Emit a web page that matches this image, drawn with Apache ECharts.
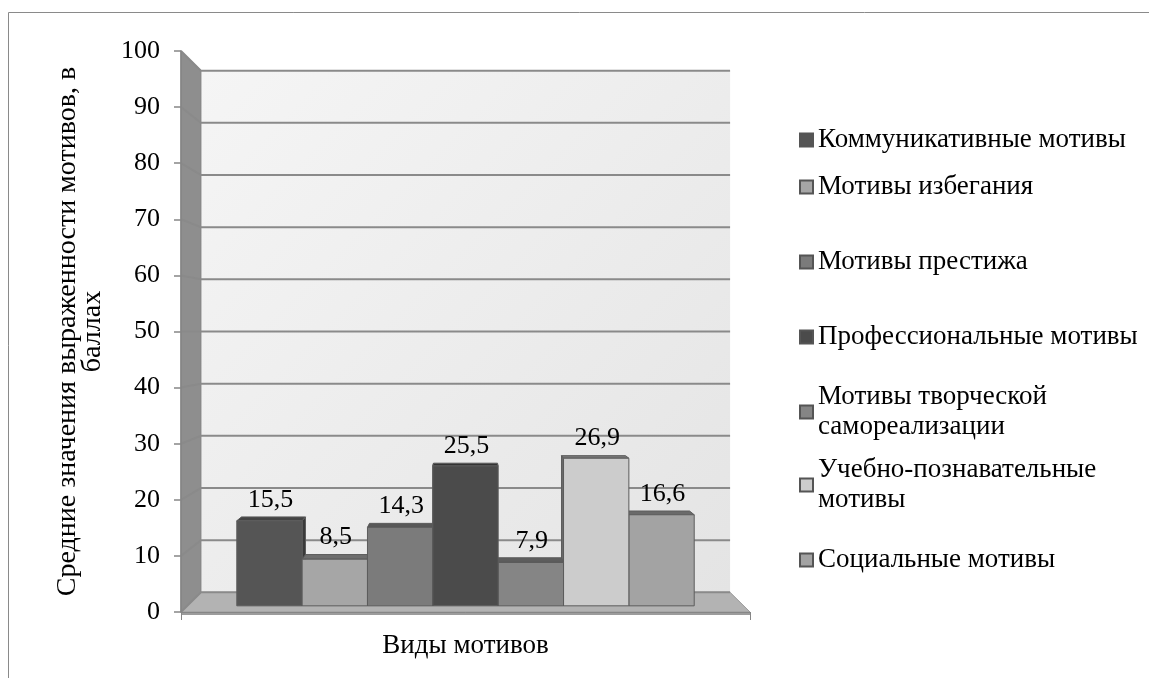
<!DOCTYPE html>
<html>
<head>
<meta charset="utf-8">
<script src="https://cdn.jsdelivr.net/npm/echarts@6/dist/echarts.min.js"></script>
<style>
  html, body { margin: 0; background: #fff; }
  #chart { width: 1149px; height: 678px; }
</style>
</head>
<body>
<div id="chart"></div>
<script>
const categories = ['Виды мотивов']
const seriesNames = [
  'Коммуникативные мотивы',
  'Мотивы избегания',
  'Мотивы престижа',
  'Профессиональные мотивы',
  'Мотивы творческой самореализации',
  'Учебно-познавательные мотивы',
  'Социальные мотивы'
]
const legendLabels = [
  'Коммуникативные мотивы',
  'Мотивы избегания',
  'Мотивы престижа',
  'Профессиональные мотивы',
  'Мотивы творческой\nсамореализации',
  'Учебно-познавательные\nмотивы',
  'Социальные мотивы'
]
const seriesValues = [15.5, 8.5, 14.3, 25.5, 7.9, 26.9, 16.6]
const yTicks = [0, 10, 20, 30, 40, 50, 60, 70, 80, 90, 100]

// styling
const FONT = '"Liberation Serif", "Times New Roman", serif'
const palette = [
  { front: '#555555', top: '#434343', side: '#3a3a3a' },
  { front: '#a6a6a6', top: '#6e6e6e', side: '#777777' },
  { front: '#7b7b7b', top: '#585858', side: '#545454' },
  { front: '#4b4b4b', top: '#333333', side: '#2e2e2e' },
  { front: '#858585', top: '#5d5d5d', side: '#5a5a5a' },
  { front: '#cccccc', top: '#777777', side: '#6a6a6a' },
  { front: '#a3a3a3', top: '#6a6a6a', side: '#6f6f6f' }
]
const legendCenters = [140, 187, 262, 337, 412, 485, 560]

const BACK_SCALE = 0.93
const BAR_FRONT = 0.978
const BAR_BACK = 0.958
const BAR_SPAN = 0.822

const project = (pt, s, vp) => [vp[0] + s * (pt[0] - vp[0]), vp[1] + s * (pt[1] - vp[1])]
const fmt = (v) => String(v).replace('.', ',')

const renderWalls = (params, api) => {
  const cs = params.coordSys
  const vp = [cs.x + cs.width / 2, cs.y + cs.height / 2]
  const xl = cs.x
  const xr = cs.x + cs.width
  const yt = cs.y
  const yb = cs.y + cs.height
  const B = (x, y) => project([x, y], BACK_SCALE, vp)
  const children = [
    {
      type: 'polygon',
      shape: { points: [B(xl, yt), B(xr, yt), B(xr, yb), B(xl, yb)] },
      style: {
        fill: new echarts.graphic.LinearGradient(0, 0, 1, 1, [
          { offset: 0, color: '#f5f5f5' },
          { offset: 1, color: '#e4e4e4' }
        ])
      }
    },
    {
      type: 'polygon',
      shape: { points: [[xl, yt], B(xl, yt), B(xl, yb), [xl, yb]] },
      style: { fill: '#8e8e8e', stroke: '#808080', lineWidth: 1 }
    },
    {
      type: 'polygon',
      shape: { points: [[xl, yb], B(xl, yb), B(xr, yb), [xr, yb]] },
      style: { fill: '#b3b3b3', stroke: '#9a9a9a', lineWidth: 1 }
    },
    {
      type: 'rect',
      shape: { x: xl, y: yb, width: cs.width, height: 3 },
      style: { fill: '#9c9c9c' }
    }
  ]
  yTicks.forEach((v) => {
    const yf = api.coord([0, v])[1]
    children.push({
      type: 'polyline',
      shape: { points: [[xl, yf], B(xl, yf), B(xr, yf)] },
      style: { stroke: '#8a8a8a', lineWidth: 2, fill: null }
    })
  })
  return { type: 'group', children }
}

const renderBar = (i) => (params, api) => {
  const cs = params.coordSys
  const vp = [cs.x + cs.width / 2, cs.y + cs.height / 2]
  const band = api.size([1, 0])[0]
  const base = api.coord([api.value(0), 0])
  const top = api.coord([api.value(0), api.value(1)])
  const w = (band * BAR_SPAN) / seriesNames.length
  const x0 = base[0] - (band * BAR_SPAN) / 2 + i * w
  const x1 = x0 + w
  const y0 = base[1]
  const y1 = top[1]
  const F = (x, y) => project([x, y], BAR_FRONT, vp)
  const K = (x, y) => project([x, y], BAR_BACK, vp)
  const xs = (x0 + x1) / 2 < vp[0] ? x1 : x0
  const c = palette[i]
  const edge = { stroke: '#5c5c5c', lineWidth: 1 }
  const labelPt = K((x0 + x1) / 2, y1)
  return {
    type: 'group',
    children: [
      {
        type: 'polygon',
        shape: { points: [F(xs, y1), K(xs, y1), K(xs, y0), F(xs, y0)] },
        style: { fill: c.side, ...edge }
      },
      {
        type: 'polygon',
        shape: { points: [F(x0, y1), F(x1, y1), K(x1, y1), K(x0, y1)] },
        style: { fill: c.top, ...edge }
      },
      {
        type: 'polygon',
        shape: { points: [F(x0, y1), F(x1, y1), F(x1, y0), F(x0, y0)] },
        style: { fill: c.front, ...edge }
      },
      {
        type: 'text',
        style: {
          text: fmt(api.value(1)),
          x: (F(x0, y1)[0] + F(x1, y1)[0]) / 2 + 1,
          y: labelPt[1] - 4,
          align: 'center',
          verticalAlign: 'bottom',
          fontFamily: FONT,
          fontSize: 26,
          fill: '#000'
        }
      }
    ]
  }
}

const chart = echarts.init(document.getElementById('chart'), null, { renderer: 'canvas' })

chart.setOption({
  backgroundColor: '#fff',
  animation: false,
  graphic: [
    {
      type: 'rect',
      shape: { x: 8.5, y: 12.5, width: 1400, height: 1000 },
      style: { fill: null, stroke: '#8a8a8a', lineWidth: 1 },
      silent: true
    }
  ],
  grid: { left: 181, top: 51, width: 569, height: 561 },
  legend: legendLabels.map((label, i) => {
    const lines = label.split('\n').length
    return {
      left: 799,
      top: legendCenters[i] - 15 - 30 * (lines - 1),
      padding: 0,
      orient: 'vertical',
      selectedMode: false,
      icon: 'rect',
      itemWidth: 13,
      itemHeight: 13,
      data: [seriesNames[i]],
      formatter: () => label,
      textStyle: {
        fontFamily: FONT,
        fontSize: 27,
        lineHeight: 30,
        color: '#000',
        padding: [30 * (lines - 1), 0, 0, 0]
      }
    }
  }),
  xAxis: {
    type: 'category',
    data: categories,
    z: 10,
    axisLine: { lineStyle: { color: '#868686', width: 1 } },
    axisTick: { show: true, length: 8, lineStyle: { color: '#868686' } },
    axisLabel: { fontFamily: FONT, fontSize: 27, color: '#000', margin: 20 },
    splitLine: { show: false }
  },
  yAxis: {
    type: 'value',
    min: 0,
    max: 100,
    interval: 10,
    z: 10,
    name: 'Средние значения выраженности мотивов, в\nбаллах',
    nameLocation: 'middle',
    nameGap: 76,
    nameRotate: 90,
    nameTextStyle: { fontFamily: FONT, fontSize: 28, lineHeight: 25, color: '#000' },
    axisLine: { show: true, lineStyle: { color: '#868686', width: 1.5 } },
    axisTick: { show: true, length: 7, lineStyle: { color: '#868686', width: 1.5 } },
    axisLabel: { fontFamily: FONT, fontSize: 26, color: '#000', margin: 21 },
    splitLine: { show: false }
  },
  series: [
    {
      type: 'custom',
      name: '__walls',
      silent: true,
      z: 1,
      renderItem: renderWalls,
      encode: { x: 0, y: 1 },
      data: [[0, 0]]
    },
    ...seriesNames.map((name, i) => ({
      type: 'custom',
      name,
      z: 3 + (3 - Math.abs(i - 3)),
      renderItem: renderBar(i),
      encode: { x: 0, y: 1 },
      itemStyle: { color: palette[i].front, borderColor: '#555555', borderWidth: 1 },
      data: [[0, seriesValues[i]]]
    }))
  ]
})
</script>
</body>
</html>
